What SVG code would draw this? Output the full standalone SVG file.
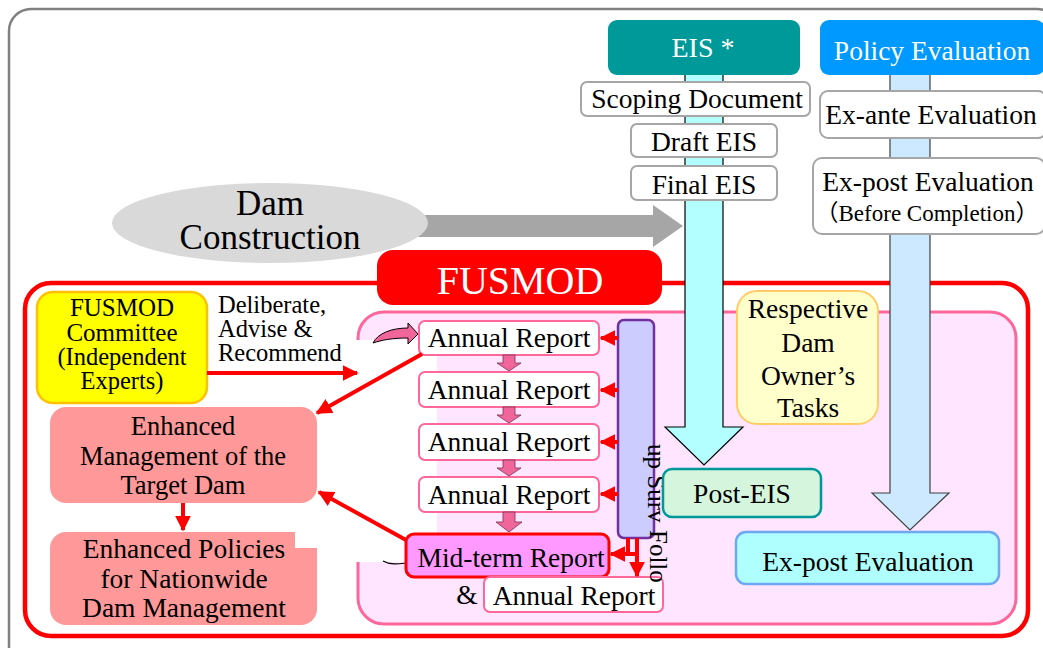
<svg xmlns="http://www.w3.org/2000/svg" width="1043" height="648" viewBox="0 0 1043 648" font-family="'Liberation Serif', 'Times New Roman', serif">
<defs>
<style>
text{font-family:'Liberation Serif','Times New Roman',serif;fill:#000;text-anchor:middle}
.t26{font-size:27.5px}
.cjk{font-family:'Liberation Serif','Noto Sans CJK JP',serif}
.wbox{fill:#fff;stroke:#a6a6a6;stroke-width:2}
.ar{fill:#fff;stroke:#ff6699;stroke-width:2}
.red{stroke:#ff0000;stroke-width:4;fill:none}
.pdown{fill:#f0669a;stroke:#7a3050;stroke-width:0.8}
</style>
<marker id="rh" viewBox="0 0 10 10" refX="9" refY="5" markerWidth="4" markerHeight="4" orient="auto" markerUnits="strokeWidth">
<path d="M0,0 L10,5 L0,10 z" fill="#ff0000"/>
</marker>
</defs>
<rect x="0" y="0" width="1043" height="648" fill="#fff"/>
<rect x="9" y="9" width="1050" height="660" rx="22" fill="none" stroke="#808080" stroke-width="2.5"/>

<g id="dam-arrow">
<path d="M330,215 H653 V205 L683,226 L653,247 V237 H330 z" fill="#a6a6a6"/>
</g>
<g id="dam-construction">
<ellipse cx="270" cy="223" rx="158" ry="40" fill="#d9d9d9"/>
<text x="270" y="215" style="font-size:35px">Dam</text>
<text x="270" y="249" style="font-size:35px">Construction</text>
</g>

<g id="fusmod-frame">
<rect x="25" y="283" width="1003" height="353" rx="26" fill="#fff" stroke="#ff0000" stroke-width="4.5"/>
<rect x="358" y="312" width="658" height="312" rx="26" fill="#ffe5ff" stroke="#ff6699" stroke-width="3"/>
<rect x="320" y="340" width="117" height="222" fill="#fff"/>
</g>
<g id="fusmod-title">
<rect x="377" y="250" width="285" height="55" rx="16" fill="#ff0000"/>
<text x="520" y="294" style="font-size:40px;fill:#fff">FUSMOD</text>
</g>

<g id="eis-shaft">
<path d="M685,75 V427 H665 L704,465 L743,427 H723 V75" fill="#b3ffff" stroke="#000" stroke-width="1.2"/>
</g>
<g id="policy-shaft">
<path d="M890,75 V493 H872 L910,530 L949,493 H930 V75" fill="#cce9ff" stroke="#404040" stroke-width="1.2"/>
</g>
<g id="eis-header">
<rect x="608" y="20" width="192" height="55" rx="9" fill="#009999"/>
<text x="703" y="57" style="font-size:28px;fill:#fff">EIS *</text>
</g>
<g id="policy-header">
<rect x="820" y="20" width="225" height="55" rx="9" fill="#0099ff"/>
<text x="932" y="60" class="t26" style="fill:#fff">Policy Evaluation</text>
</g>
<g id="scoping">
<rect x="581" y="82" width="229" height="34" rx="6" class="wbox"/>
<text x="697" y="108" class="t26">Scoping Document</text>
</g>
<g id="draft-eis">
<rect x="631" y="124" width="146" height="33" rx="6" class="wbox"/>
<text x="704" y="151" class="t26">Draft EIS</text>
</g>
<g id="final-eis">
<rect x="631" y="166" width="146" height="34" rx="6" class="wbox"/>
<text x="704" y="194" class="t26">Final EIS</text>
</g>
<g id="ex-ante">
<rect x="820" y="91" width="226" height="47" rx="8" class="wbox"/>
<text x="931" y="124" class="t26">Ex-ante Evaluation</text>
</g>
<g id="ex-post-before">
<rect x="813" y="158" width="232" height="76" rx="9" class="wbox"/>
<text x="928" y="191" class="t26">Ex-post Evaluation</text>
<text x="927" y="221" class="cjk" style="font-size:23px">（Before Completion）</text>
</g>

<g id="committee">
<rect x="37" y="292" width="170" height="111" rx="16" fill="#ffff00" stroke="#ffc000" stroke-width="2.5"/>
<text x="122" y="316" style="font-size:25px">FUSMOD</text>
<text x="122" y="341" style="font-size:25px">Committee</text>
<text x="122" y="365" style="font-size:24.5px">(Independent</text>
<text x="122" y="389" style="font-size:24.5px">Experts)</text>
</g>
<g id="deliberate-label">
<text x="218" y="313" style="font-size:24.5px;text-anchor:start">Deliberate,</text>
<text x="218" y="337" style="font-size:24.5px;text-anchor:start">Advise &amp;</text>
<text x="218" y="361" style="font-size:24.5px;text-anchor:start">Recommend</text>
</g>
<g id="enhanced-management">
<rect x="50" y="407" width="267" height="96" rx="16" fill="#ff9999"/>
<text x="183" y="435" style="font-size:26.5px">Enhanced</text>
<text x="183" y="465" style="font-size:26.5px">Management of the</text>
<text x="183" y="494" style="font-size:26.5px">Target Dam</text>
</g>
<g id="enhanced-policies">
<rect x="50" y="532" width="267" height="93" rx="16" fill="#ff9999"/>
<rect x="295" y="532" width="25" height="16" fill="#fff"/>
<text x="184" y="558" style="font-size:27.5px">Enhanced Policies</text>
<text x="184" y="588" style="font-size:27.5px">for Nationwide</text>
<text x="184" y="617" style="font-size:27.5px">Dam Management</text>
</g>

<g id="curl-arrows">
<path d="M373,343 C378,333 392,328 408,328 L408,323 L418,334 L408,344 L408,338 C392,338 382,340 373,343 z" fill="#f0669a" stroke="#000" stroke-width="1"/>
<path d="M383,561 C390,565 398,564 406,563" fill="none" stroke="#000" stroke-width="1.2"/>
</g>

<g id="annual-1">
<rect x="419" y="321" width="180" height="34" rx="6" class="ar"/>
<text x="509" y="347" class="t26">Annual Report</text>
</g>
<g id="annual-2">
<rect x="419" y="372" width="180" height="35" rx="6" class="ar"/>
<text x="509" y="399" class="t26">Annual Report</text>
</g>
<g id="annual-3">
<rect x="419" y="424" width="180" height="36" rx="6" class="ar"/>
<text x="509" y="451" class="t26">Annual Report</text>
</g>
<g id="annual-4">
<rect x="419" y="477" width="180" height="35" rx="6" class="ar"/>
<text x="509" y="504" class="t26">Annual Report</text>
</g>
<g id="mid-term">
<rect x="406" y="534" width="203" height="43" rx="8" fill="#ff99ff" stroke="#ff0000" stroke-width="3"/>
<text x="511" y="567" class="t26">Mid-term Report</text>
</g>
<g id="annual-final">
<text x="467" y="604" class="t26">&amp;</text>
<rect x="484" y="577" width="179" height="35" rx="6" class="ar"/>
<text x="574" y="605" class="t26">Annual Report</text>
</g>

<g id="report-flow">
<path class="pdown" d="M503,355 H515 V363 H521 L509,371 L497,363 H503 z"/>
<path class="pdown" d="M503,407 H515 V415 H521 L509,423 L497,415 H503 z"/>
<path class="pdown" d="M503,460 H515 V468 H521 L509,476 L497,468 H503 z"/>
<path class="pdown" d="M503,512 H515 V522 H522 L509,532 L496,522 H503 z"/>
</g>

<g id="survey">
<rect x="618" y="320" width="36" height="218" rx="6" fill="#ccccff" stroke="#7030a0" stroke-width="2.5"/>
<text transform="translate(648,444) rotate(90)" style="font-size:25px;text-anchor:start">up Surv</text>
<text transform="translate(650,530) rotate(90)" style="font-size:25px;text-anchor:start">Follo</text>
</g>

<g id="respective">
<rect x="737" y="291" width="141" height="133" rx="20" fill="#ffffcc" stroke="#ffcc66" stroke-width="2"/>
<text x="808" y="318" class="t26">Respective</text>
<text x="808" y="352" class="t26">Dam</text>
<text x="808" y="385" class="t26">Owner’s</text>
<text x="808" y="417" class="t26">Tasks</text>
</g>
<g id="post-eis">
<rect x="663" y="469" width="158" height="48" rx="9" fill="#d5f5dd" stroke="#009999" stroke-width="2.5"/>
<text x="742" y="503" class="t26">Post-EIS</text>
</g>
<g id="ex-post">
<rect x="736" y="532" width="263" height="52" rx="10" fill="#b0ffff" stroke="#6fa8f0" stroke-width="2.5"/>
<text x="868" y="571" class="t26">Ex-post Evaluation</text>
</g>

<g id="connectors">
<line x1="207" y1="373" x2="357" y2="373" class="red" marker-end="url(#rh)"/>
<line x1="422" y1="354" x2="317" y2="413" class="red" marker-end="url(#rh)"/>
<line x1="406" y1="540" x2="319" y2="492" class="red" marker-end="url(#rh)"/>
<line x1="183" y1="503" x2="183" y2="530" class="red" marker-end="url(#rh)"/>
<line x1="618" y1="338" x2="601" y2="338" class="red" marker-end="url(#rh)"/>
<line x1="618" y1="390" x2="601" y2="390" class="red" marker-end="url(#rh)"/>
<line x1="618" y1="442" x2="601" y2="442" class="red" marker-end="url(#rh)"/>
<line x1="618" y1="494" x2="601" y2="494" class="red" marker-end="url(#rh)"/>
<line x1="628" y1="538" x2="628" y2="554" class="red"/>
<line x1="637" y1="554" x2="611" y2="554" class="red" marker-end="url(#rh)"/>
<line x1="637" y1="538" x2="637" y2="576" class="red" marker-end="url(#rh)"/>
</g>
</svg>
